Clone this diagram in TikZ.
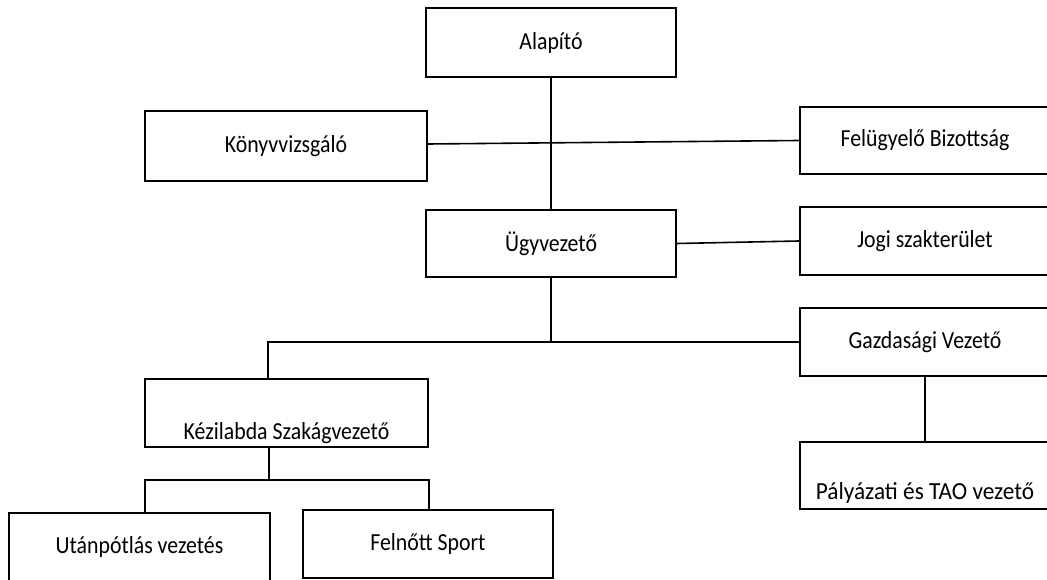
\documentclass[tikz,border=0pt]{standalone}
\usepackage{fontspec}
\setmainfont{Carlito}[FakeStretch=0.89]
\newfontfamily\widefont{Carlito}[FakeStretch=0.95]
\begin{document}
\begin{tikzpicture}[x=1pt,y=-1pt,
  box/.style={draw=black, line width=1.9pt, rectangle, minimum height=68pt, inner sep=0pt, font=\fontsize{24.5}{28}\selectfont},
  conn/.style={draw=black, line width=1.6pt}]
\useasboundingbox (0,0) rectangle (1047,580);
\clip (0,0) rectangle (1047,580);
\node[box, minimum width=250pt, minimum height=69pt] (alap) at (551,42.5) {Alapító};
\node[box, minimum width=282pt, minimum height=70pt] (konyv) at (286,146) {Könyvvizsgáló};
\node[box, minimum width=250pt, minimum height=67pt] (felu) at (925,140.5) {Felügyelő Bizottság};
\node[box, minimum width=250pt, minimum height=67pt] (ugy) at (551,243.5) {Ügyvezető};
\node[box, minimum width=250pt] (jogi) at (925,241) {Jogi szakterület};
\node[box, minimum width=250pt] (gazd) at (925,342) {Gazdasági Vezető};
\node[box, minimum width=283pt, text height=60pt, text depth=8pt] (kez) at (286.5,413) {Kézilabda Szakágvezető};
\node[box, minimum width=250pt, minimum height=67pt, text height=57pt, text depth=10pt] (pal) at (925,475.5) {\widefont Pályázati és TAO vezető};
\node[box, minimum width=261pt] (utan) at (139.5,547) {Utánpótlás vezetés};
\node[box, minimum width=250pt] (feln) at (428,544) {Felnőtt Sport};
\coordinate (bus) at (269,480);
\draw[conn] (alap.south) -- (ugy.north);
\draw[conn] ([yshift=2pt]konyv.east) -- (felu.west);
\draw[conn] (ugy.east) -- (jogi.west);
\draw[conn] (ugy.south) |- (gazd.west);
\draw[conn] (gazd.west) -| ([xshift=-18.5pt]kez.north);
\draw[conn] (gazd.south) -- (pal.north);
\draw[conn] ([xshift=-17.5pt]kez.south) -- (bus);
\draw[conn] ([xshift=5.5pt]utan.north) |- (bus) -| ([xshift=1pt]feln.north);
\end{tikzpicture}
\end{document}
